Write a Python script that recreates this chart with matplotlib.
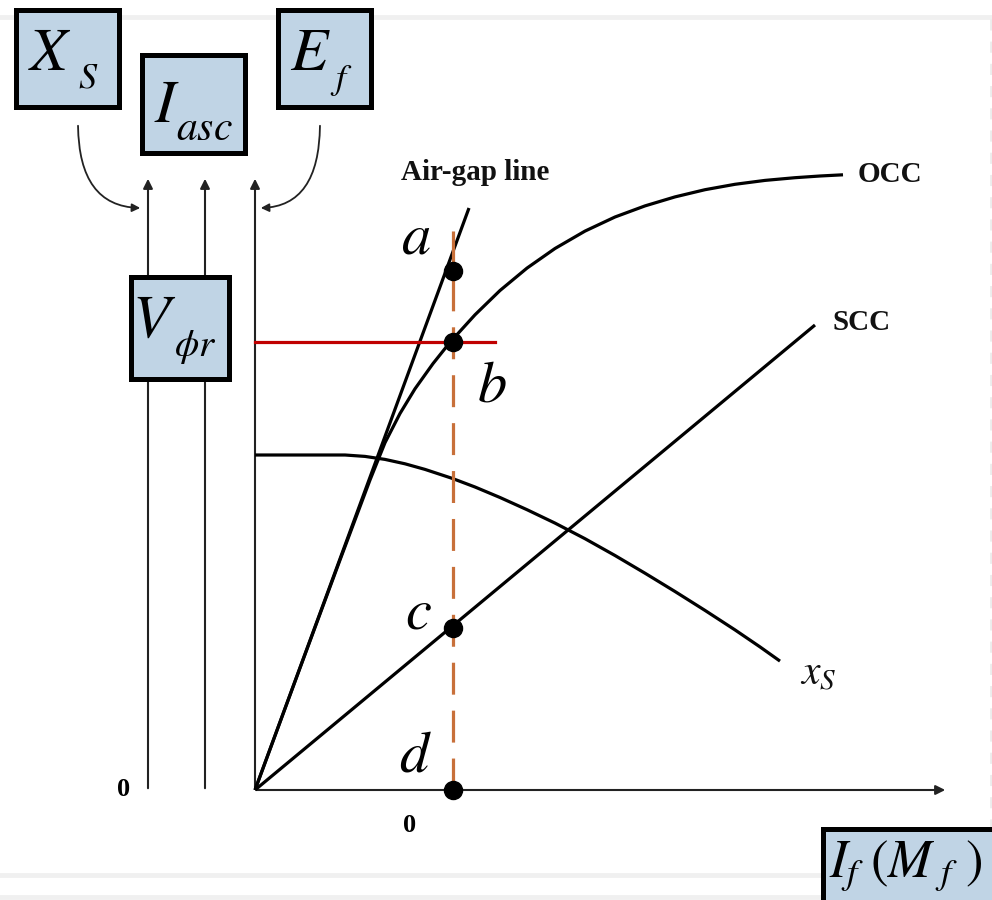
import matplotlib
matplotlib.use("Agg")
import matplotlib.pyplot as plt
from matplotlib.patches import Rectangle, FancyArrowPatch

plt.rcParams['mathtext.fontset'] = 'stix'

# Field current (x) and voltage / reactance (y), arbitrary units
airgap_x = [0.0, 2.14]
airgap_y = [0.0, 5.82]

occ_x = [0.0, 0.45, 0.85, 1.15, 1.30, 1.45, 1.60, 1.78, 1.95, 2.20, 2.45, 2.72,
         3.00, 3.30, 3.60, 3.90, 4.20, 4.50, 4.80, 5.10, 5.40, 5.65, 5.88]
occ_y = [0.0, 1.22, 2.30, 3.10, 3.473, 3.765, 4.012, 4.264, 4.477, 4.752, 4.995,
         5.219, 5.415, 5.589, 5.73, 5.841, 5.931, 6.003, 6.057, 6.096, 6.123,
         6.14, 6.152]

scc_x = [0.0, 5.60]
scc_y = [0.0, 4.65]

xs_x = [0.0, 0.5, 0.9, 1.1, 1.3, 1.5, 1.7, 1.97, 2.2, 2.45, 2.72, 3.0, 3.3,
        3.6, 3.9, 4.2, 4.5, 4.8, 5.05, 5.25]
xs_y = [3.35, 3.35, 3.35, 3.336, 3.306, 3.262, 3.206, 3.117, 3.030, 2.925,
        2.803, 2.669, 2.513, 2.345, 2.168, 1.985, 1.796, 1.601, 1.431, 1.289]

# operating field current and the points a, b, c, d read on it
i_op = 1.975
point_names = ['a', 'b', 'c', 'd']
point_y = [5.19, 4.48, 1.62, 0.0]
v_rated = 4.48

fig = plt.figure(figsize=(9.92, 9), dpi=100)
ax = fig.add_axes([0, 0, 1, 1])
ax.set_xlim(-2.55, 7.37)
ax.set_ylim(-1.10, 7.90)
ax.axis('off')

# faint slide guide lines in the background
ax.plot([-2.55, 7.37], [7.73, 7.73], color='#f0f0f0', lw=3.5, zorder=0)
ax.plot([-2.55, 5.7], [-0.85, -0.85], color='#f0f0f0', lw=3.5, zorder=0)
ax.plot([-2.55, 5.7], [-1.07, -1.07], color='#f0f0f0', lw=3.5, zorder=0)
ax.plot([7.36, 7.36], [-0.4, 7.8], color='#ececec', lw=2, ls=(0, (4, 4)), zorder=0)

# axes with arrowheads
arrow_kw = dict(arrowstyle='-|>', color='#222222', lw=1.5, mutation_scale=14)
for x0 in [-1.07, -0.50, 0.0]:
    ax.annotate('', xy=(x0, 6.14), xytext=(x0, -0.01), arrowprops=arrow_kw, zorder=2)
ax.annotate('', xy=(6.93, 0.0), xytext=(-0.01, 0.0), arrowprops=arrow_kw, zorder=2)

ax.text(-1.31, 0.0, '0', fontsize=19, fontweight='bold', family='Liberation Serif',
        ha='center', va='center')
ax.text(1.55, -0.35, '0', fontsize=19, fontweight='bold', family='Liberation Serif',
        ha='center', va='center')

# characteristic curves
curve_kw = dict(color='black', lw=2.3, solid_capstyle='butt',
                solid_joinstyle='round', zorder=3)
ax.plot(airgap_x, airgap_y, **curve_kw)
ax.plot(occ_x, occ_y, **curve_kw)
ax.plot(scc_x, scc_y, **curve_kw)
ax.plot(xs_x, xs_y, **curve_kw)

lab_kw = dict(fontsize=21, fontweight='bold', family='Liberation Serif', color='#111111')
ax.text(2.20, 6.18, 'Air-gap line', ha='center', va='center', **lab_kw)
ax.text(6.03, 6.16, 'OCC', ha='left', va='center', **lab_kw)
ax.text(5.77, 4.67, 'SCC', ha='left', va='center', **lab_kw)
ax.text(5.45, 1.17, r'$x_S$', fontsize=30, ha='left', va='center', color='#111111')

# rated voltage line and the operating field current
ax.plot([0, 2.40], [v_rated, v_rated], color='#c00000', lw=2.3, zorder=4)
ax.plot([i_op, i_op], [0, 5.72], color='#c8703a', lw=2.3, dashes=(10, 5), zorder=4)
ax.plot([i_op] * len(point_y), point_y, 'o', color='black', ms=13, zorder=5)

label_pos = [(1.61, 5.53), (2.37, 4.05), (1.63, 1.78), (1.60, 0.35)]
for name, (lx, ly) in zip(point_names, label_pos):
    ax.text(lx, ly, '$' + name + '$', fontsize=42, ha='center', va='center')

# quantity boxes
box_fc = '#c0d4e5'
boxes = [(-2.39, 6.83, 1.03, 0.97),
         (-1.13, 6.37, 1.03, 0.98),
         (0.23, 6.83, 0.93, 0.97),
         (-1.24, 4.11, 0.98, 1.02),
         (5.68, -1.25, 1.80, 0.86)]
for bx, by, bw, bh in boxes:
    ax.add_patch(Rectangle((bx, by), bw, bh, facecolor=box_fc, edgecolor='black',
                           lw=3.6, zorder=6, clip_on=False))

txt_kw = dict(ha='center', va='center', zorder=7)
ax.text(-2.05, 7.36, '$X$', fontsize=44, **txt_kw)
ax.text(-1.67, 7.12, '$S$', fontsize=26, **txt_kw)
ax.text(-0.88, 6.84, '$I$', fontsize=44, **txt_kw)
ax.text(-0.51, 6.62, '$asc$', fontsize=30, **txt_kw)
ax.text(0.55, 7.36, '$E$', fontsize=44, **txt_kw)
ax.text(0.86, 7.10, '$f$', fontsize=26, **txt_kw)
ax.text(-1.01, 4.70, '$V$', fontsize=44, **txt_kw)
ax.text(-0.60, 4.43, r'$\phi r$', fontsize=28, **txt_kw)
ax.text(5.74, -0.76, r'$I_f\;(M_{\ f}\ )$', fontsize=38, ha='left', va='center',
        zorder=7)

# curved pointers from the boxes to the axes
ax.add_patch(FancyArrowPatch((-1.77, 6.67), (-1.12, 5.82),
                             connectionstyle='angle3,angleA=-90,angleB=0',
                             arrowstyle='-|>', mutation_scale=12, lw=1.3,
                             color='#222222', zorder=2))
ax.add_patch(FancyArrowPatch((0.65, 6.67), (0.03, 5.82),
                             connectionstyle='angle3,angleA=-90,angleB=180',
                             arrowstyle='-|>', mutation_scale=12, lw=1.3,
                             color='#222222', zorder=2))

fig.savefig('out.png', dpi=100)
